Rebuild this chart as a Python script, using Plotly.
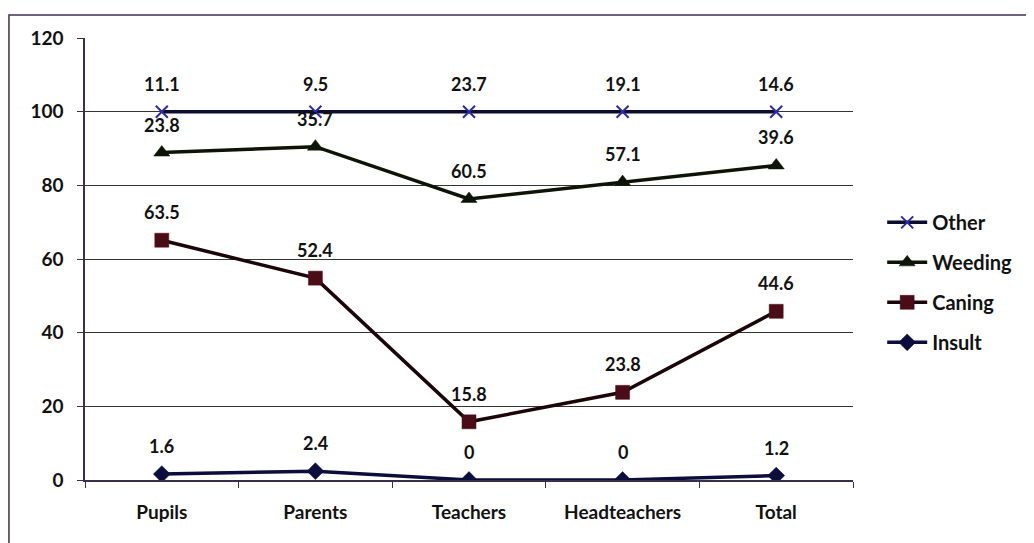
import numpy as np
import plotly.graph_objects as go

categories = ["Pupils", "Parents", "Teachers", "Headteachers", "Total"]
insult = [1.6, 2.4, 0, 0, 1.2]
caning = [63.5, 52.4, 15.8, 23.8, 44.6]
weeding = [23.8, 35.7, 60.5, 57.1, 39.6]
other = [11.1, 9.5, 23.7, 19.1, 14.6]

series = [
    ("Insult", insult, "#0b0d3c", "#0b0d3c", "diamond", 13),
    ("Caning", caning, "#1a0508", "#4a0c16", "square", 14),
    ("Weeding", weeding, "#0d1405", "#0d1405", "triangle-up", 14),
    ("Other", other, "#0b0c2e", "#2a2ca0", "x-thin", 12),
]

FONT = dict(family="Lato", size=19, color="#111", weight="bold")

fig = go.Figure()
cum = np.zeros(len(categories))
traces = []
annotations = []
for name, vals, lc, mc, sym, ms in series:
    cum = cum + np.array(vals, dtype=float)
    traces.append(go.Scatter(
        x=categories, y=cum.copy(), name=name, mode="lines+markers",
        legendgroup=name,
        line=dict(color=lc, width=3.5),
        marker=dict(symbol=sym, size=ms, color=mc,
                    line=dict(color=mc, width=2 if sym == "x-thin" else 0.5)),
    ))
    for c, yv, v in zip(categories, cum, vals):
        annotations.append(dict(
            x=c, y=float(yv), text=f"{v:g}", showarrow=False,
            yshift=28, yanchor="middle",
            font=dict(family="Lato", size=18, color="#111", weight="bold"),
        ))

for tr in reversed(traces):
    fig.add_trace(tr)

fig.update_layout(
    width=1026, height=535,
    margin=dict(l=77, r=181, t=30, b=63),
    paper_bgcolor="white", plot_bgcolor="white",
    font=FONT,
    annotations=annotations,
    showlegend=True,
    legend=dict(x=1.038, xanchor="left", y=0.627, yanchor="top",
                traceorder="grouped", tracegroupgap=11, itemwidth=40,
                font=dict(family="Lato", size=20, color="#111", weight="bold"),
                bgcolor="rgba(0,0,0,0)"),
    xaxis=dict(range=[-0.5, 4.5], showgrid=False, showline=True,
               linecolor="#3a2f4a", linewidth=1.5, ticks="outside",
               tickson="boundaries", ticklen=6, tickcolor="#3a2f4a",
               ticklabelstandoff=14, tickfont=FONT),
    yaxis=dict(range=[0, 120], dtick=20, showgrid=True, gridcolor="#333",
               gridwidth=1.2, showline=True, linecolor="#3a2f4a", linewidth=1.5,
               ticks="outside", ticklen=6, tickcolor="#3a2f4a", zeroline=False,
               ticklabelstandoff=10, tickfont=FONT),
    shapes=[dict(type="rect", xref="paper", yref="paper",
                 x0=-0.099, x1=1.4, y0=-0.3, y1=1.052,
                 line=dict(color="#403050", width=1.5))],
)

fig.write_html("out.html")
